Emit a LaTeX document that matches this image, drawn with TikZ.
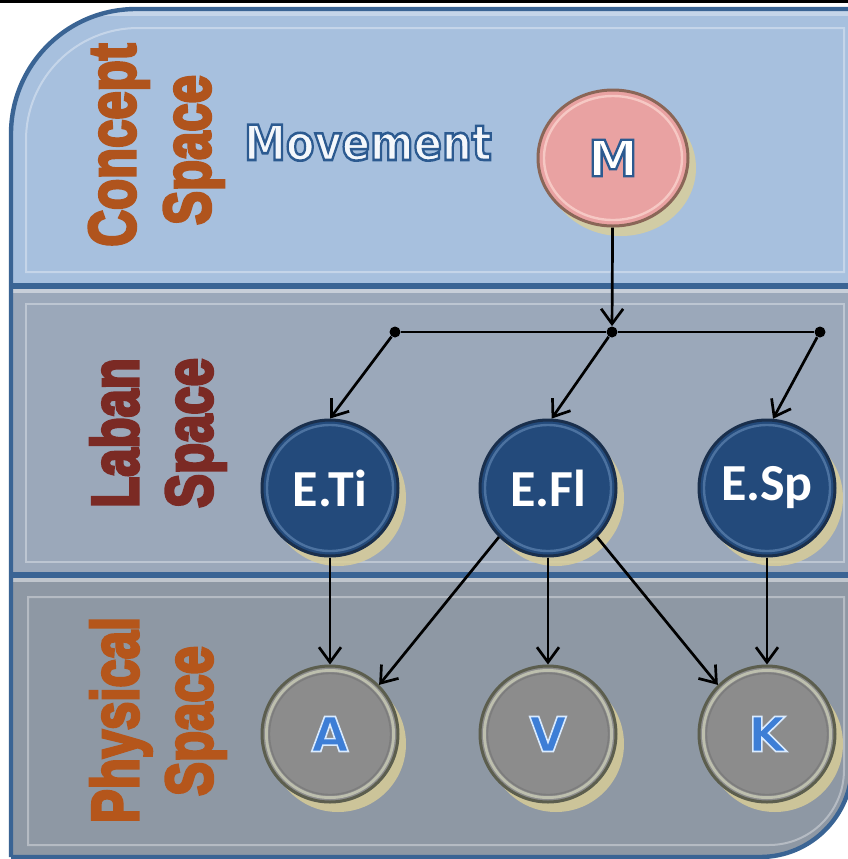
\documentclass[tikz,border=0pt]{standalone}
\usepackage{fontspec}
\usepackage{graphicx}
\usetikzlibrary{shapes.geometric,arrows.meta,shadows}
\newfontfamily\lblfont{Liberation Sans}
\newfontfamily\djfont{DejaVu Sans}
\newfontfamily\calfont{Carlito}
\definecolor{bandconcept}{HTML}{A7C0DE}
\definecolor{bandlaban}{HTML}{9BA8BA}
\definecolor{bandphys}{HTML}{8E98A4}
\definecolor{borderblue}{HTML}{3A6494}
\definecolor{conceptlbl}{HTML}{B0541D}
\definecolor{labanlbl}{HTML}{7B2A24}
\definecolor{physlbl}{HTML}{B5561B}
\definecolor{mfill}{HTML}{E9A2A2}
\definecolor{mrim}{HTML}{8A6657}
\definecolor{mring}{HTML}{F6C8C4}
\definecolor{lfill}{HTML}{234A7B}
\definecolor{lrim}{HTML}{1A2F4C}
\definecolor{lring}{HTML}{4C72A0}
\definecolor{pfill}{HTML}{8C8C8C}
\definecolor{prim}{HTML}{5C5E4E}
\definecolor{pring}{HTML}{BDBFAE}
\definecolor{shadowcol}{HTML}{DCCF97}
\definecolor{pblue}{HTML}{3D7ED6}
\definecolor{moveline}{HTML}{2C5A90}
\definecolor{movefill}{HTML}{F4F7FB}
% stroked text: #1 line width (bp), #2 stroke colour as "r g b", #3 text
\newcommand\strk[3]{\special{pdf:literal direct q 2 Tr #1 w #2 RG}#3\special{pdf:literal direct Q}}
\tikzset{
  shadowy/.style={general shadow={fill=shadowcol, fill opacity=0.8, shadow xshift=4pt, shadow yshift=-5pt}},
  mnode/.style={ellipse, minimum width=75pt, minimum height=68pt, inner sep=0pt,
    fill=mfill, draw=mrim, line width=1.5pt, shadowy, text=white,
    font=\djfont\bfseries\fontsize{25}{25}\selectfont,
    path picture={\draw[mring, line width=1.2pt] (path picture bounding box.center) ellipse [x radius=34.5pt, y radius=31pt];}},
  lnode/.style={circle, minimum size=68pt, inner sep=0pt,
    fill=lfill, draw=lrim, line width=1.5pt, shadowy, text=white,
    font=\calfont\bfseries\fontsize{26}{26}\selectfont,
    path picture={\draw[lring, line width=1.2pt] (path picture bounding box.center) circle [radius=31.5pt];}},
  pnode/.style={circle, minimum size=68pt, inner sep=0pt,
    fill=pfill, draw=prim, line width=1.5pt, shadowy, text=pblue,
    font=\djfont\bfseries\fontsize{24}{24}\selectfont,
    path picture={\draw[pring, line width=1.4pt] (path picture bounding box.center) circle [radius=31.8pt];
                  \draw[black!55, line width=0.8pt, opacity=0.6] (path picture bounding box.center) circle [radius=30.3pt];}},
  dotn/.style={circle, fill=black, minimum size=5.5pt, inner sep=0pt},
  conn/.style={line width=1.35pt, -{Straight Barb[length=7.5pt, width=11pt, line width=1.35pt]}},
  plain/.style={line width=1.35pt},
  vlab/.style={rotate=90, anchor=base, inner sep=0pt, font=\lblfont\bfseries\fontsize{33}{33}\selectfont},
  hl/.style={white, opacity=0.35, line width=1pt},
}
\begin{document}
\begin{tikzpicture}[x=0.5pt, y=-0.5pt]
\useasboundingbox (0,0) rectangle (848,859);
\fill[white] (0,0) rectangle (848,859);
\fill[black] (0,0) rectangle (848,2.5);
% panel
\begin{scope}
  \clip (11,857) -- (11,134) arc[start angle=180, end angle=270, radius=125] -- (870,9) -- (870,857) -- cycle;
  \clip (0,0) -- (852,0) -- (852,765) arc[start angle=0, end angle=90, radius=92] -- (0,857) -- cycle;
  \fill[bandconcept] (0,0) rectangle (880,287);
  \fill[bandlaban] (0,287) rectangle (880,576);
  \fill[bandphys] (0,576) rectangle (880,870);
  \fill[white, opacity=0.35] (0,11) rectangle (880,16);
  \fill[borderblue] (0,283) rectangle (880,289);
  \fill[white, opacity=0.45] (0,289) rectangle (880,293);
  \fill[borderblue] (0,572) rectangle (880,578);
  \fill[white, opacity=0.45] (0,578) rectangle (880,582);
  \draw[hl] (26,272) -- (26,140) arc[start angle=180, end angle=270, radius=112] -- (844,28) -- (844,272) -- cycle;
  \draw[hl] (26,304) rectangle (844,562);
  \draw[hl] (28,597) -- (844,597) -- (844,770) arc[start angle=0, end angle=90, radius=75] -- (28,845) -- cycle;
\end{scope}
\draw[borderblue, line width=2.2pt] (11,857) -- (11,134) arc[start angle=180, end angle=270, radius=125] -- (870,9);
\draw[borderblue, line width=2.2pt] (852,700) -- (852,765) arc[start angle=0, end angle=90, radius=92] -- (11,857);
% side labels
\node[vlab, text=conceptlbl] (cl1) at (135,145) {\scalebox{0.77}[1]{\strk{1.6}{0.690 0.329 0.114}{Concept}}};
\node[vlab, text=conceptlbl] (cl2) at (210,150) {\scalebox{0.77}[1]{\strk{1.6}{0.690 0.329 0.114}{Space}}};
\node[vlab, text=labanlbl] (ll1) at (138,433) {\scalebox{0.77}[1]{\strk{1.6}{0.482 0.165 0.141}{Laban}}};
\node[vlab, text=labanlbl] (ll2) at (212,433) {\scalebox{0.77}[1]{\strk{1.6}{0.482 0.165 0.141}{Space}}};
\node[vlab, text=physlbl] (pl1) at (138,720) {\scalebox{0.77}[1]{\strk{1.6}{0.710 0.337 0.106}{Physical}}};
\node[vlab, text=physlbl] (pl2) at (212,721) {\scalebox{0.77}[1]{\strk{1.6}{0.710 0.337 0.106}{Space}}};
% movement
\node[font=\djfont\bfseries\fontsize{24.3}{24.3}\selectfont, text=movefill, anchor=base, inner sep=0pt] (mv) at (368,160) {\scalebox{0.86}[1]{\strk{1.3}{0.173 0.353 0.565}{Movement}}};
% nodes
\node[mnode] (m) at (613,158) {\strk{1.2}{0.173 0.353 0.565}{M}};
\node[lnode] (eti) at (330,488) {E.Ti};
\node[lnode] (efl) at (548,488) {E.Fl};
\node[lnode] (esp) at (767,488) {E.Sp};
\node[pnode] (a) at (330,734) {\strk{0.8}{0.85 0.92 1}{A}};
\node[pnode] (v) at (548,734) {\strk{0.8}{0.85 0.92 1}{V}};
\node[pnode] (k) at (767,734) {\strk{0.8}{0.85 0.92 1}{K}};
\node[dotn] (ld) at (395,332) {};
\node[dotn] (md) at (612,332) {};
\node[dotn] (rd) at (820,332) {};
% connectors
\draw[conn] (m) -- (md);
\draw[plain] (ld) -- (md);
\draw[plain] (md) -- (rd);
\draw[conn] (ld) -- (eti.north);
\draw[conn] (md) -- (efl.87);
\draw[conn] (rd) -- (esp.85);
\draw[conn] (eti) -- (a);
\draw[conn] (efl.225) -- (a.45);
\draw[conn] (efl) -- (v);
\draw[conn] (efl.315) -- (k.135);
\draw[conn] (esp) -- (k);
\end{tikzpicture}
\end{document}
